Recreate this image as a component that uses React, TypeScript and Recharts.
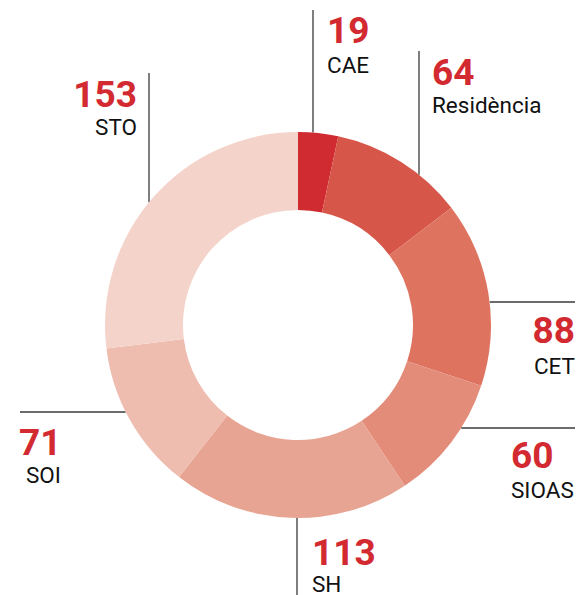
import { PieChart, Pie, Cell, Customized } from "recharts";

const services = ["CAE", "Residència", "CET", "SIOAS", "SH", "SOI", "STO"];
const counts = [19, 64, 88, 60, 113, 71, 153];
const sliceColors = ["#d02b30", "#d7564a", "#de7360", "#e38c7a", "#e8a493", "#efbdb0", "#f4d4ca"];

const data = services.map((name, i) => ({ name, value: counts[i] }));

const CX = 298;
const CY = 325;
const OUTER = 193;
const INNER = 115;

// callout layout: leader line runs from a fixed point to the ring edge
type Callout = {
  dir: "v" | "h";
  at: number; // x for vertical lines, y for horizontal
  from: number; // where the line starts
  side: 1 | -1; // which side of the ring it meets
  tx: number;
  numY: number;
  nameY: number;
  anchor: "start" | "end";
  nameX?: number;
};

const callouts: Callout[] = [
  { dir: "v", at: 313, from: 10, side: -1, tx: 327, numY: 43, nameY: 73, anchor: "start" },
  { dir: "v", at: 419, from: 51, side: -1, tx: 432, numY: 85, nameY: 113, anchor: "start" },
  { dir: "h", at: 302, from: 575, side: 1, tx: 575, numY: 343, nameY: 374, anchor: "end" },
  { dir: "h", at: 428, from: 575, side: 1, tx: 511, numY: 468, nameY: 498, anchor: "start" },
  { dir: "v", at: 297, from: 595, side: 1, tx: 312, numY: 565, nameY: 592, anchor: "start" },
  { dir: "h", at: 412, from: 20, side: -1, tx: 19, numY: 455, nameY: 483, anchor: "start", nameX: 26 },
  { dir: "v", at: 149, from: 73, side: -1, tx: 137, numY: 107, nameY: 135, anchor: "end" },
];

const FONT = "Roboto, 'Noto Sans', sans-serif";

function Callouts() {
  return (
    <g>
      {callouts.map((c, i) => {
        let x1, y1, x2, y2;
        if (c.dir === "v") {
          const d = Math.sqrt(OUTER * OUTER - (c.at - CX) ** 2);
          x1 = c.at;
          x2 = c.at;
          y1 = c.from;
          y2 = CY + c.side * d;
        } else {
          const d = Math.sqrt(OUTER * OUTER - (c.at - CY) ** 2);
          y1 = c.at;
          y2 = c.at;
          x1 = c.from;
          x2 = CX + c.side * d;
        }
        return (
          <g key={i}>
            <line x1={x1} y1={y1} x2={x2} y2={y2} stroke="#3a3a3a" strokeWidth={1.3} />
            <text
              x={c.tx}
              y={c.numY}
              textAnchor={c.anchor}
              fontFamily={FONT}
              fontWeight={700}
              fontSize={37}
              fill="#d22a30"
            >
              {counts[i]}
            </text>
            <text
              x={c.nameX ?? c.tx}
              y={c.nameY}
              textAnchor={c.anchor}
              fontFamily={FONT}
              fontSize={22.5}
              fill="#111"
            >
              {services[i]}
            </text>
          </g>
        );
      })}
    </g>
  );
}

export default function App() {
  return (
    <div style={{ position: "absolute", left: 0, top: 0, width: 580, height: 595, overflow: "hidden" }}>
      <PieChart width={580} height={595} margin={{ top: 0, right: 0, bottom: 0, left: 0 }}>
        <Pie
          data={data}
          dataKey="value"
          nameKey="name"
          cx={CX}
          cy={CY}
          innerRadius={INNER}
          outerRadius={OUTER}
          startAngle={90}
          endAngle={-270}
          stroke="none"
          isAnimationActive={false}
        >
          {data.map((d, i) => (
            <Cell key={d.name} fill={sliceColors[i]} />
          ))}
        </Pie>
        <Customized component={Callouts} />
      </PieChart>
    </div>
  );
}
